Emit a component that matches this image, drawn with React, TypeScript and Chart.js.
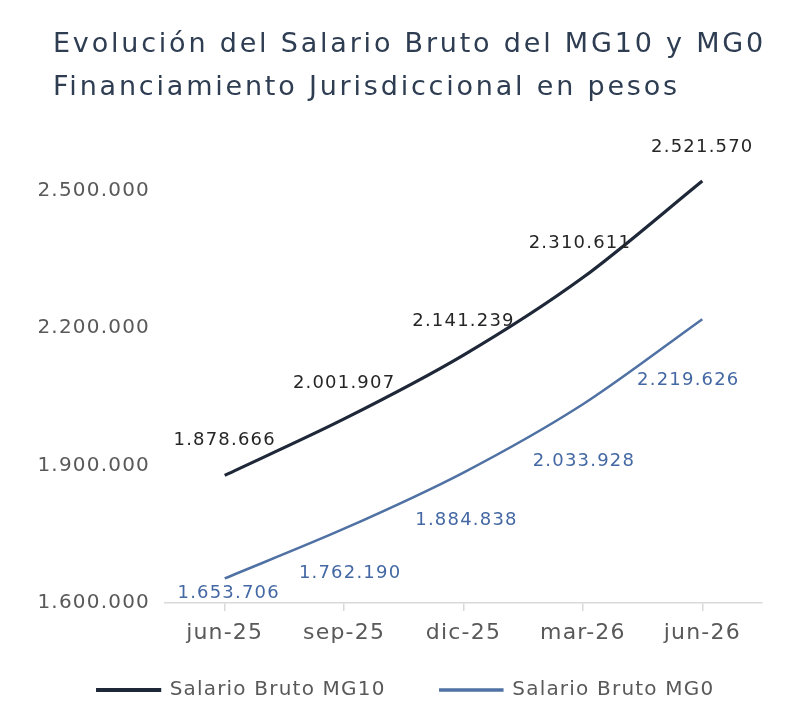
import { useEffect, useRef } from "react"
import { Chart, registerables } from "chart.js"

Chart.register(...registerables)

const periods = ["jun-25", "sep-25", "dic-25", "mar-26", "jun-26"]
const mg10 = [1878666, 2001907, 2141239, 2310611, 2521570]
const mg0 = [1653706, 1762190, 1884838, 2033928, 2219626]
const yTicks = [1600000, 1900000, 2200000, 2500000]

const FONT = "'DejaVu Sans', sans-serif"
const DARK = "#1e2838"
const BLUE = "#4f71a3"

// label offsets (px) from each point, Excel-style hand placement
const mg10Offsets = [
  [0, -35],
  [0, -36],
  [0, -34],
  [-3, -34],
  [0, -34],
]
const mg0Offsets = [
  [4, 15],
  [6, 45],
  [3, 48],
  [1, 57],
  [-14, 61],
]

const fmt = (v: number) => String(Math.round(v)).replace(/\B(?=(\d{3})+(?!\d))/g, ".")

// the original font is wider than DejaVu, so spread the canvas text a little
const spacing = {
  id: "spacing",
  beforeUpdate(chart: Chart) {
    ;(chart.ctx as any).letterSpacing = "1.2px"
  },
  beforeDraw(chart: Chart) {
    ;(chart.ctx as any).letterSpacing = "1.2px"
  },
}

const pointLabels = {
  id: "pointLabels",
  afterDatasetsDraw(chart: Chart) {
    const ctx = chart.ctx
    ctx.save()
    ctx.font = `18px ${FONT}`
    ctx.textAlign = "center"
    ctx.textBaseline = "middle"
    chart.data.datasets.forEach((ds, di) => {
      const meta = chart.getDatasetMeta(di)
      const offs = di === 0 ? mg10Offsets : mg0Offsets
      ctx.fillStyle = di === 0 ? "#262626" : "#4468a3"
      meta.data.forEach((pt, i) => {
        ctx.fillText(fmt(ds.data[i] as number), pt.x + offs[i][0], pt.y + offs[i][1])
      })
    })
    ctx.restore()
  },
}

export default function App() {
  const canvasRef = useRef<HTMLCanvasElement>(null)

  useEffect(() => {
    document.body.style.margin = "0"
    if (!canvasRef.current) return
    const chart = new Chart(canvasRef.current, {
      type: "line",
      data: {
        labels: periods,
        datasets: [
          {
            label: "Salario Bruto MG10",
            data: mg10,
            borderColor: DARK,
            backgroundColor: DARK,
            borderWidth: 3.2,
            tension: 0.3,
            pointRadius: 0,
          },
          {
            label: "Salario Bruto MG0",
            data: mg0,
            borderColor: BLUE,
            backgroundColor: BLUE,
            borderWidth: 2.5,
            tension: 0.3,
            pointRadius: 0,
          },
        ],
      },
      options: {
        animation: false,
        responsive: true,
        maintainAspectRatio: false,
        layout: { padding: { top: 145, right: 25, bottom: 9, left: 25 } },
        plugins: {
          tooltip: { enabled: false },
          legend: {
            position: "bottom",
            labels: {
              color: "#595959",
              font: { family: FONT, size: 20 },
              boxWidth: 62,
              boxHeight: 1,
              padding: 32,
              // a little extra room between the two entries
              generateLabels: (c) =>
                Chart.defaults.plugins.legend.labels
                  .generateLabels(c)
                  .map((l, i) => (i === 0 ? { ...l, text: l.text + "   " } : l)),
            },
          },
        },
        scales: {
          x: {
            offset: true,
            grid: {
              display: true,
              drawOnChartArea: false,
              color: "#d9d9d9",
              tickLength: 8,
              lineWidth: 1.5,
            },
            border: { color: "#d9d9d9", width: 1.5 },
            ticks: {
              color: "#595959",
              font: { family: FONT, size: 22 },
              padding: 9,
            },
            afterFit: (scale) => {
              scale.height = 45
            },
          },
          y: {
            min: 1600000,
            max: 2600000,
            grid: { display: false },
            border: { display: false },
            ticks: {
              color: "#595959",
              font: { family: FONT, size: 20 },
              padding: 7,
              includeBounds: false,
              callback: (v) => fmt(Number(v)),
            },
            afterBuildTicks: (scale) => {
              scale.ticks = yTicks.map((value) => ({ value }))
            },
            afterFit: (scale) => {
              scale.width = 140
            },
          },
          // empty right-hand spacer so the plot ends where the original does
          spacer: {
            type: "linear",
            position: "right",
            grid: { display: false },
            border: { display: false },
            ticks: { display: false },
            afterFit: (scale) => {
              scale.width = 25
            },
          },
        },
      },
      plugins: [spacing, pointLabels],
    })
    return () => chart.destroy()
  }, [])

  return (
    <div style={{ position: "relative", width: 812, height: 719, background: "#fff" }}>
      <div
        style={{
          position: "absolute",
          left: 53,
          top: 21,
          fontFamily: FONT,
          fontSize: 27,
          letterSpacing: "2.8px",
          lineHeight: "43px",
          color: "#2e3d52",
          whiteSpace: "nowrap",
        }}
      >
        Evolución del Salario Bruto del MG10 y MG0
        <br />
        Financiamiento Jurisdiccional en pesos
      </div>
      <canvas ref={canvasRef} />
    </div>
  )
}
